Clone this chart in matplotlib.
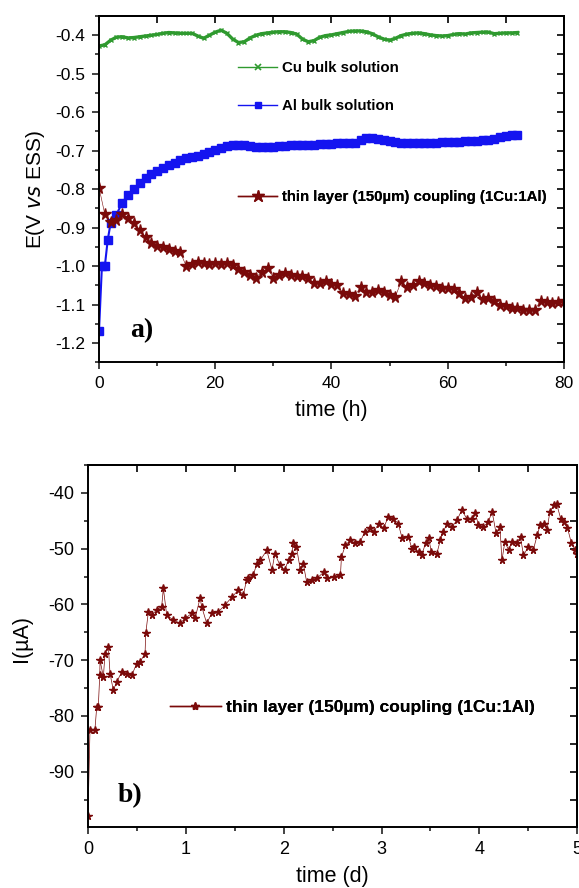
import matplotlib
matplotlib.use("Agg")
import matplotlib.pyplot as plt
from matplotlib.ticker import MultipleLocator, NullFormatter, FuncFormatter

plt.rcParams['font.family'] = ['Liberation Sans', 'DejaVu Sans']

# ---- panel a) : potential vs time (h) ----
cu_t = list(range(0, 73))
cu_e = [-0.428, -0.425, -0.413, -0.405, -0.404, -0.407, -0.406, -0.404, -0.402, -0.400,
        -0.398, -0.395, -0.393, -0.394, -0.395, -0.395, -0.395, -0.402, -0.408, -0.400,
        -0.392, -0.387, -0.395, -0.410, -0.419, -0.417, -0.407, -0.400, -0.396, -0.394,
        -0.392, -0.391, -0.391, -0.393, -0.397, -0.410, -0.417, -0.414, -0.405, -0.401,
        -0.399, -0.396, -0.393, -0.390, -0.389, -0.389, -0.391, -0.396, -0.404, -0.410,
        -0.413, -0.408, -0.401, -0.397, -0.395, -0.394, -0.396, -0.399, -0.401, -0.402,
        -0.401, -0.398, -0.396, -0.397, -0.394, -0.393, -0.392, -0.392, -0.396, -0.395,
        -0.394, -0.394, -0.393]

al_t = [0, 0.5, 1, 1.5, 2] + list(range(3, 73))
al_e = [-1.168, -1.000, -1.000, -0.932, -0.888, -0.866, -0.835, -0.815, -0.800, -0.783,
        -0.771, -0.760, -0.752, -0.744, -0.738, -0.731, -0.724, -0.720, -0.716, -0.713,
        -0.708, -0.703, -0.698, -0.693, -0.688, -0.686, -0.685, -0.686, -0.688, -0.690,
        -0.691, -0.691, -0.690, -0.689, -0.687, -0.685, -0.686, -0.685, -0.684, -0.684,
        -0.683, -0.682, -0.682, -0.681, -0.680, -0.680, -0.679, -0.673, -0.668, -0.667,
        -0.670, -0.673, -0.676, -0.678, -0.680, -0.681, -0.681, -0.681, -0.680, -0.679,
        -0.679, -0.678, -0.678, -0.677, -0.677, -0.676, -0.675, -0.674, -0.673, -0.672,
        -0.670, -0.665, -0.661, -0.659, -0.658]

tl_t = list(range(0, 81))
tl_e = [-0.796, -0.865, -0.886, -0.880, -0.865, -0.875, -0.888, -0.905, -0.925, -0.940,
        -0.947, -0.951, -0.956, -0.961, -0.964, -1.000, -0.995, -0.990, -0.993, -0.995,
        -0.993, -0.995, -0.993, -0.998, -1.008, -1.016, -1.022, -1.030, -1.015, -1.006,
        -1.030, -1.022, -1.017, -1.024, -1.027, -1.026, -1.030, -1.045, -1.043, -1.040,
        -1.046, -1.050, -1.070, -1.073, -1.077, -1.055, -1.068, -1.068, -1.062, -1.066,
        -1.076, -1.079, -1.040, -1.055, -1.050, -1.040, -1.044, -1.050, -1.053, -1.056,
        -1.056, -1.060, -1.070, -1.083, -1.080, -1.066, -1.085, -1.083, -1.090, -1.101,
        -1.104, -1.108, -1.110, -1.113, -1.114, -1.113, -1.090, -1.093, -1.095, -1.094,
        -1.090]

# ---- panel b) : current vs time (d) ----
cur_t = [0.0, 0.02, 0.07, 0.089, 0.105, 0.12, 0.123, 0.157, 0.174, 0.208, 0.225, 0.259,
         0.293, 0.345, 0.396, 0.447, 0.498, 0.532, 0.583, 0.59, 0.617, 0.651, 0.702,
         0.753, 0.77, 0.804, 0.872, 0.941, 0.992, 1.06, 1.094, 1.145, 1.162, 1.213,
         1.264, 1.333, 1.40, 1.47, 1.537, 1.588, 1.62, 1.64, 1.69, 1.725, 1.76, 1.827,
         1.88, 1.91, 1.96, 2.01, 2.05, 2.08, 2.10, 2.13, 2.17, 2.20, 2.235, 2.29, 2.34,
         2.41, 2.44, 2.51, 2.58, 2.59, 2.63, 2.68, 2.73, 2.78, 2.83, 2.88, 2.92, 2.97,
         3.02, 3.07, 3.12, 3.17, 3.21, 3.275, 3.31, 3.33, 3.38, 3.41, 3.45, 3.48, 3.51,
         3.565, 3.60, 3.63, 3.67, 3.72, 3.77, 3.82, 3.87, 3.92, 3.96, 3.99, 4.04, 4.09,
         4.13, 4.17, 4.21, 4.23, 4.26, 4.30, 4.33, 4.38, 4.42, 4.45, 4.50, 4.55, 4.59,
         4.62, 4.66, 4.69, 4.72, 4.76, 4.79, 4.83, 4.86, 4.90, 4.94, 4.98, 5.0]
cur_i = [-98.0, -82.6, -82.6, -78.4, -78.4, -72.7, -70.0, -73.0, -68.8, -67.6, -72.4, -75.4,
         -73.9, -72.1, -72.4, -72.7, -70.6, -70.3, -68.8, -65.2, -61.3, -61.9, -61.0,
         -60.4, -57.1, -61.9, -62.8, -63.4, -62.5, -61.6, -62.5, -58.9, -60.4, -63.4,
         -61.6, -61.3, -60.1, -58.7, -57.4, -58.3, -55.6, -55.3, -54.7, -52.7, -52.1, -50.3,
         -53.8, -50.9, -52.9, -53.8, -52.0, -50.9, -49.0, -49.7, -53.8, -52.7, -56.0, -55.6,
         -55.3, -54.2, -55.3, -55.0, -54.7, -51.5, -49.4, -48.5, -49.0, -48.8, -47.0, -46.3,
         -47.0, -45.5, -46.3, -44.3, -44.6, -45.5, -48.1, -47.9, -50.0, -49.7, -50.6, -51.2,
         -49.0, -48.1, -50.6, -50.9, -48.5, -47.0, -45.5, -46.1, -44.9, -43.1, -44.6, -44.6,
         -43.7, -45.8, -46.1, -45.2, -43.4, -47.2, -46.1, -52.1, -48.8, -50.3, -48.8, -49.0,
         -47.9, -51.2, -49.7, -50.3, -47.6, -45.8, -45.5, -46.7, -43.4, -42.2, -42.0, -44.6,
         -45.2, -46.3, -49.0, -50.3, -51.0]

GREEN = '#2f9a2f'
BLUE = '#1414f0'
DRED = '#7a0a0a'


def style_axes(ax, labelsize):
    for s in ax.spines.values():
        s.set_linewidth(1.4)
    ax.tick_params(which='both', direction='out', top=False, right=False,
                   labelsize=labelsize, width=1.2, color='#222222', pad=5)
    ax.tick_params(which='major', length=5)
    ax.tick_params(which='minor', length=3)
    # mirrored ticks on top/right, pointing inward, no labels
    sec_x = ax.secondary_xaxis('top')
    sec_y = ax.secondary_yaxis('right')
    sec_x.xaxis.set_major_formatter(NullFormatter())
    sec_y.yaxis.set_major_formatter(NullFormatter())
    for sec in (sec_x, sec_y):
        sec.tick_params(which='major', direction='in', length=5, width=1.2)
        for s in sec.spines.values():
            s.set_linewidth(1.4)
    return sec_x, sec_y


def add_legend(ax, handle, label, x, y, hlen, size):
    leg = ax.legend([handle], [label], loc='center left', bbox_to_anchor=(x, y),
                    frameon=False, borderpad=0, borderaxespad=0, handlelength=hlen,
                    handletextpad=0.3, numpoints=1,
                    prop={'weight': 'bold', 'size': size})
    ax.add_artist(leg)


fig = plt.figure(figsize=(5.79, 8.88), dpi=100)

# panel a
ax1 = fig.add_axes([0.171, 0.592, 0.803, 0.390])
ax1.plot(cu_t, cu_e, color=GREEN, lw=2.4, marker='x', ms=3, mew=1)
ax1.plot(al_t, al_e, color=BLUE, lw=1.5, marker='s', ms=5.5, ls='-')
ax1.plot(tl_t, tl_e, color=DRED, lw=0.4, marker='*', ms=8.5)
ax1.set_xlim(0, 80)
ax1.set_ylim(-1.25, -0.35)
ax1.xaxis.set_major_locator(MultipleLocator(20))
ax1.xaxis.set_minor_locator(MultipleLocator(10))
ax1.yaxis.set_major_locator(MultipleLocator(0.1))
ax1.yaxis.set_minor_locator(MultipleLocator(0.05))
ax1.yaxis.set_major_formatter(FuncFormatter(lambda v, p: f"{v:.1f}"))
sx, sy = style_axes(ax1, 12.5)
sx.xaxis.set_major_locator(MultipleLocator(10))
sy.yaxis.set_major_locator(MultipleLocator(0.05))
ax1.set_xlabel('time (h)', fontsize=15.5, labelpad=6)
ax1.set_ylabel(r'E(V $\mathit{vs}$ ESS)', fontsize=15, labelpad=6)
ax1.text(0.067, 0.072, 'a)', transform=ax1.transAxes, fontsize=20, fontweight='bold',
         family='Liberation Serif')

cu_h, = ax1.plot([], [], color=GREEN, lw=1, marker='x', ms=5, mew=1.2)
al_h, = ax1.plot([], [], color=BLUE, lw=1, marker='s', ms=5)
tl_h, = ax1.plot([], [], color=DRED, lw=1, marker='*', ms=9)
add_legend(ax1, cu_h, 'Cu bulk solution', 0.299, 0.85, 2.6, 10.8)
add_legend(ax1, al_h, 'Al bulk solution', 0.299, 0.74, 2.6, 10.8)
add_legend(ax1, tl_h, 'thin layer (150\u00b5m) coupling (1Cu:1Al)', 0.299, 0.477, 2.6, 10.8)

# panel b
ax2 = fig.add_axes([0.152, 0.0687, 0.845, 0.4077])
ax2.plot(cur_t, cur_i, color=DRED, lw=0.5, marker='*', ms=5.5)
ax2.set_xlim(0, 5)
ax2.set_ylim(-99.9, -35)
ax2.xaxis.set_major_locator(MultipleLocator(1))
ax2.xaxis.set_minor_locator(MultipleLocator(0.5))
ax2.yaxis.set_major_locator(MultipleLocator(10))
ax2.yaxis.set_minor_locator(MultipleLocator(5))
ax2.yaxis.set_major_formatter(FuncFormatter(lambda v, p: f"{v:.0f}"))
sx2, sy2 = style_axes(ax2, 13)
sx2.xaxis.set_major_locator(MultipleLocator(0.5))
sy2.yaxis.set_major_locator(MultipleLocator(5))
ax2.set_xlabel('time (d)', fontsize=15.5, labelpad=6)
ax2.set_ylabel('I(\u00b5A)', fontsize=15.5, labelpad=12)
ax2.yaxis.set_label_coords(-0.115, 0.52)
ax2.text(0.061, 0.069, 'b)', transform=ax2.transAxes, fontsize=20, fontweight='bold',
         family='Liberation Serif')
tl_h2, = ax2.plot([], [], color=DRED, lw=1, marker='*', ms=6)
add_legend(ax2, tl_h2, 'thin layer (150\u00b5m) coupling (1Cu:1Al)', 0.168, 0.331, 2.9, 12.5)

fig.savefig('out.png', dpi=100)
